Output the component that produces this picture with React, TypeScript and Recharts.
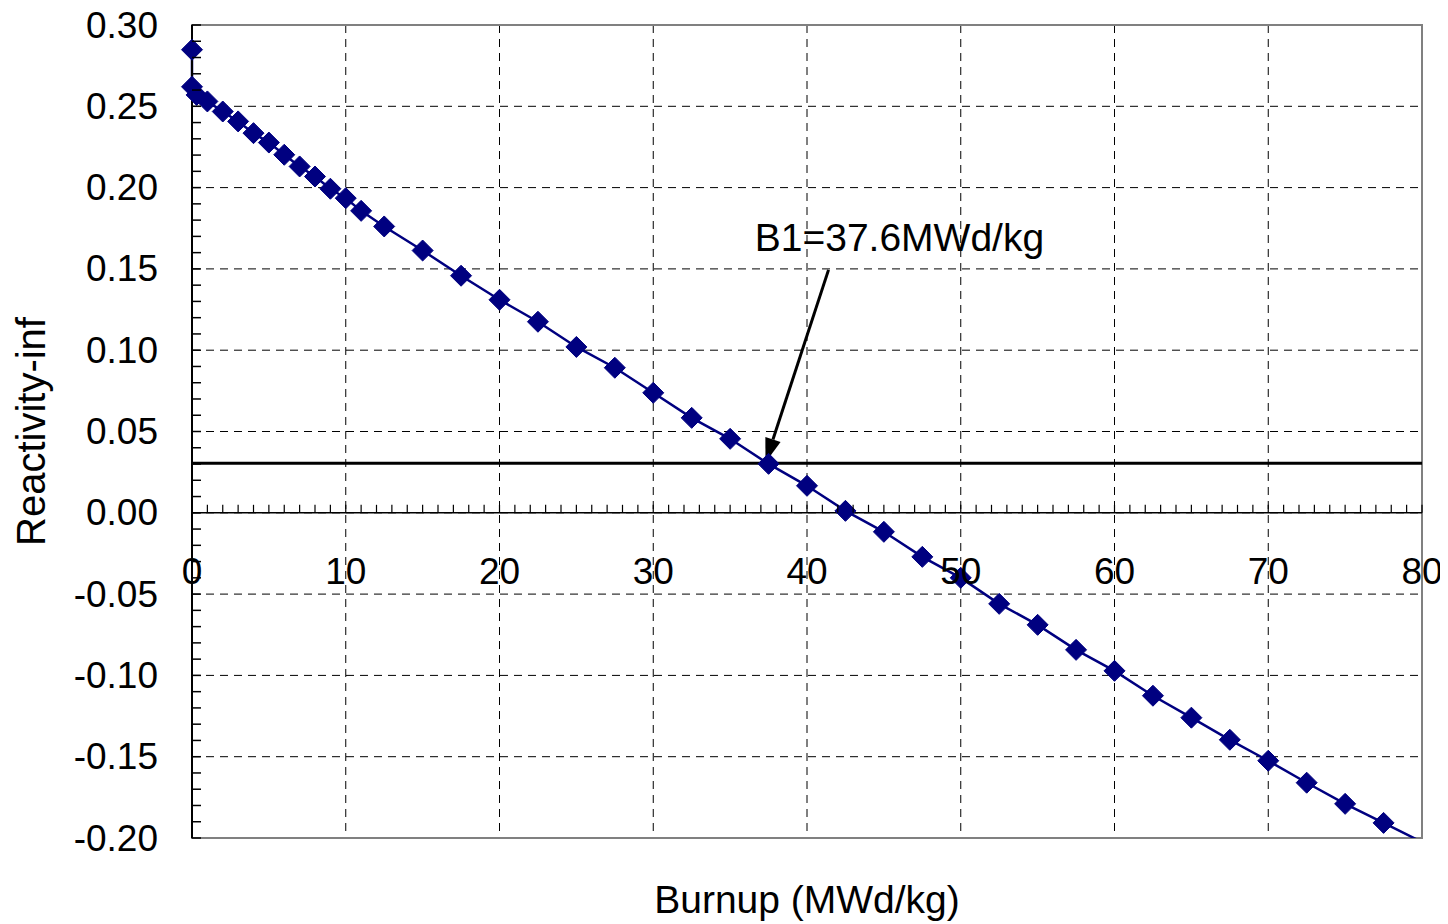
import React from "react";
import {
  LineChart,
  Line,
  XAxis,
  YAxis,
  CartesianGrid,
  ReferenceLine,
  ReferenceDot,
  ReferenceArea,
} from "recharts";

// ---- data ----
const burnup = [
  0, 0, 0.3, 1, 2, 3, 4, 5, 6, 7, 8, 9, 10, 11, 12.5, 15, 17.5, 20, 22.5, 25,
  27.5, 30, 32.5, 35, 37.5, 40, 42.5, 45, 47.5, 50, 52.5, 55, 57.5, 60, 62.5,
  65, 67.5, 70, 72.5, 75, 77.5, 80,
];
const reactivity = [
  0.2848, 0.262, 0.257, 0.253, 0.2468, 0.2407, 0.2335, 0.2277, 0.2202, 0.213,
  0.2068, 0.1993, 0.1935, 0.1857, 0.1761, 0.1613, 0.1458, 0.131, 0.1175, 0.102,
  0.0892, 0.0738, 0.0584, 0.0455, 0.0301, 0.0166, 0.0012, -0.0117, -0.0271,
  -0.04, -0.056, -0.0689, -0.0843, -0.0972, -0.1125, -0.126, -0.1396, -0.1525,
  -0.166, -0.179, -0.1907, -0.2025,
];
const xTicks = [0, 10, 20, 30, 40, 50, 60, 70, 80];
const yTicks = [-0.2, -0.15, -0.1, -0.05, 0, 0.05, 0.1, 0.15, 0.2, 0.25, 0.3];
const xMinorTicks = Array.from({ length: 81 }, (_, i) => i);
const yMinorTicks = Array.from({ length: 51 }, (_, i) => Number((-0.2 + i * 0.01).toFixed(2)));
const thresholdY = 0.0305;
const annotationText = "B1=37.6MWd/kg";
const annotationPos = { x: 36.6, y: 0.161 };
const arrowFrom = { x: 41.4, y: 0.1494 };
const arrowTo = { x: 37.3, y: 0.031 };

const Y_MAX = 0.3;
const Y_MIN = -0.2;

// markers are only shown for points inside the plotted range
const data = burnup.map((b, i) => ({
  x: b,
  y: reactivity[i],
  m: reactivity[i] >= Y_MIN ? reactivity[i] : null,
}));

// ---- layout (chart covers the whole window; body margin is cancelled) ----
const W = 1448;
const H = 924;
const M_TOP = 25;
const M_RIGHT = 26;
const PLOT_LEFT = 192;
const X_AXIS_H = 86;
const PLOT_TOP = M_TOP;
const PLOT_H = H - M_TOP - X_AXIS_H;
const Y_ZERO = PLOT_TOP + (PLOT_H * Y_MAX) / (Y_MAX - Y_MIN);
const FONT = "'Liberation Sans', Arial, Helvetica, sans-serif";
const NAVY = "#000080";

const Diamond = (props: any) => {
  const { cx, cy, payload } = props;
  if (cx == null || cy == null || payload == null || payload.m == null) return <g />;
  const r = 10.5;
  return (
    <polygon
      points={`${cx},${cy - r} ${cx + r},${cy} ${cx},${cy + r} ${cx - r},${cy}`}
      fill={NAVY}
      stroke={NAVY}
      strokeWidth={1}
    />
  );
};

const XLabelTick = (props: any) => {
  const { x, payload } = props;
  return (
    <text
      x={x}
      y={Y_ZERO + 59}
      textAnchor="middle"
      dominantBaseline="central"
      fontFamily={FONT}
      fontSize={37}
      fill="#000"
    >
      {payload.value}
    </text>
  );
};

const XMinorTick = (props: any) => {
  const { x } = props;
  return <line x1={x} x2={x} y1={Y_ZERO} y2={Y_ZERO - 8} stroke="#000" strokeWidth={1.2} />;
};

const YLabelTick = (props: any) => {
  const { y, payload } = props;
  return (
    <text
      x={PLOT_LEFT - 34}
      y={y}
      textAnchor="end"
      dominantBaseline="central"
      fontFamily={FONT}
      fontSize={37}
      fill="#000"
    >
      {Number(payload.value).toFixed(2)}
    </text>
  );
};

const YMinorTick = (props: any) => {
  const { y } = props;
  return <line x1={PLOT_LEFT} x2={PLOT_LEFT + 9} y1={y} y2={y} stroke="#000" strokeWidth={1.5} />;
};

const ArrowShape = (props: any) => {
  const { x1, y1, x2, y2 } = props;
  const dx = x2 - x1;
  const dy = y2 - y1;
  const len = Math.sqrt(dx * dx + dy * dy) || 1;
  const ux = dx / len;
  const uy = dy / len;
  const hl = 24;
  const hw = 8;
  const bx = x2 - ux * hl;
  const by = y2 - uy * hl;
  const px = -uy;
  const py = ux;
  return (
    <g>
      <line x1={x1} y1={y1} x2={bx} y2={by} stroke="#000" strokeWidth={3} />
      <polygon
        points={`${x2},${y2} ${bx + px * hw},${by + py * hw} ${bx - px * hw},${by - py * hw}`}
        fill="#000"
      />
    </g>
  );
};

const AnnotationShape = (props: any) => {
  const { cx, cy } = props;
  return (
    <text x={cx} y={cy} textAnchor="start" fontFamily={FONT} fontSize={39} fill="#000">
      {annotationText}
    </text>
  );
};

export default function App() {
  return (
    <div style={{ width: W, height: H, background: "#fff", margin: "-8px 0 0 -8px" }}>
      <LineChart
        width={W}
        height={H}
        data={data}
        margin={{ top: M_TOP, right: M_RIGHT, left: 0, bottom: 0 }}
      >
        <ReferenceArea
          x1={0}
          x2={80}
          y1={Y_MIN}
          y2={Y_MAX}
          fill="none"
          stroke="#808080"
          strokeWidth={2}
          fillOpacity={0}
        />
        <CartesianGrid stroke="#000" strokeWidth={1} strokeDasharray="8 6" />
        <XAxis
          dataKey="x"
          type="number"
          domain={[0, 80]}
          ticks={xTicks}
          interval={0}
          axisLine={false}
          tickLine={false}
          height={X_AXIS_H - 1}
          tick={<XLabelTick />}
          label={{
            value: "Burnup (MWd/kg)",
            position: "insideBottom",
            offset: 10,
            fontFamily: FONT,
            fontSize: 39,
            fill: "#000",
          }}
        />
        <XAxis
          xAxisId="minor"
          dataKey="x"
          type="number"
          domain={[0, 80]}
          ticks={xMinorTicks}
          interval={0}
          allowDataOverflow
          axisLine={false}
          tickLine={false}
          height={1}
          tick={<XMinorTick />}
        />
        <YAxis
          type="number"
          domain={[Y_MIN, Y_MAX]}
          ticks={yTicks}
          interval={0}
          allowDataOverflow
          width={PLOT_LEFT - 1}
          tickLine={false}
          axisLine={{ stroke: "#000", strokeWidth: 2 }}
          tick={<YLabelTick />}
          label={{
            content: (p: any) => {
              const vb = p.viewBox || {};
              const cy = (vb.y ?? PLOT_TOP) + (vb.height ?? PLOT_H) / 2;
              return (
                <text
                  x={31}
                  y={cy}
                  transform={`rotate(-90, 31, ${cy})`}
                  textAnchor="middle"
                  dominantBaseline="central"
                  fontFamily={FONT}
                  fontSize={40}
                  fill="#000"
                >
                  Reactivity-inf
                </text>
              );
            },
          }}
        />
        <YAxis
          yAxisId="minor"
          dataKey="y"
          type="number"
          domain={[Y_MIN, Y_MAX]}
          ticks={yMinorTicks}
          interval={0}
          allowDataOverflow
          width={1}
          axisLine={false}
          tickLine={false}
          tick={<YMinorTick />}
        />
        <YAxis yAxisId="markers" type="number" domain={[Y_MIN, Y_MAX]} hide />
        <ReferenceLine y={0} stroke="#000" strokeWidth={1.5} />
        <ReferenceLine y={thresholdY} stroke="#000" strokeWidth={3} />
        <Line
          type="linear"
          dataKey="y"
          stroke={NAVY}
          strokeWidth={2.5}
          dot={false}
          activeDot={false}
          isAnimationActive={false}
        />
        <Line
          yAxisId="markers"
          type="linear"
          dataKey="m"
          stroke="none"
          strokeWidth={0}
          dot={<Diamond />}
          activeDot={false}
          isAnimationActive={false}
          legendType="none"
        />
        <ReferenceLine
          segment={[arrowFrom, arrowTo]}
          stroke="#000"
          shape={<ArrowShape />}
        />
        <ReferenceDot x={annotationPos.x} y={annotationPos.y} r={0} shape={<AnnotationShape />} />
      </LineChart>
    </div>
  );
}
